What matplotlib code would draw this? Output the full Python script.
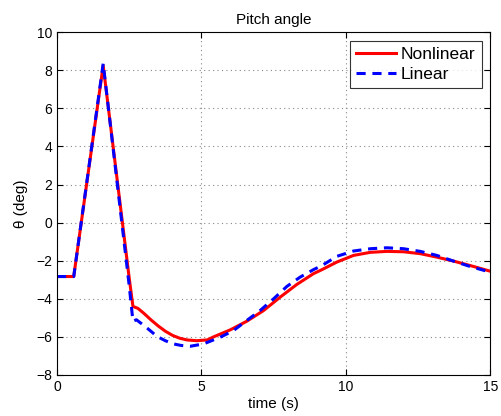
import numpy as np
import matplotlib
matplotlib.use('Agg')
import matplotlib.pyplot as plt

plt.rcParams['font.family'] = ['Liberation Sans', 'DejaVu Sans']

# Values
t_nl = [0.0, 0.58, 1.6, 2.5, 2.63, 2.8, 3.0, 3.25, 3.5, 3.75, 4.0, 4.25, 4.5,
        4.84, 5.2, 5.42, 6.0, 6.57, 7.15, 7.73, 8.3, 8.88, 9.2, 9.69, 10.27,
        10.85, 11.42, 12.0, 12.58, 13.15, 13.73, 14.3, 15.0]
theta_nl = [-2.83, -2.83, 8.25, -2.9, -4.4, -4.5, -4.75, -5.1, -5.42, -5.7,
            -5.92, -6.07, -6.16, -6.2, -6.16, -6.0, -5.63, -5.18, -4.62, -3.91,
            -3.25, -2.68, -2.45, -2.07, -1.72, -1.56, -1.51, -1.53, -1.63,
            -1.81, -2.02, -2.25, -2.55]

t_lin = [0.0, 0.58, 1.6, 2.5, 2.63, 2.75, 3.06, 3.47, 3.75, 4.04, 4.3, 4.62,
         5.07, 5.65, 6.11, 6.57, 7.03, 7.5, 7.96, 8.42, 8.88, 9.2, 9.69, 10.27,
         10.85, 11.42, 12.0, 12.58, 13.15, 13.73, 14.3, 15.0]
theta_lin = [-2.83, -2.83, 8.35, -3.3, -5.18, -5.1, -5.46, -5.98, -6.2, -6.37,
             -6.45, -6.49, -6.37, -6.02, -5.67, -5.14, -4.62, -4.0, -3.35,
             -2.86, -2.47, -2.23, -1.77, -1.49, -1.37, -1.32, -1.37, -1.51,
             -1.72, -2.02, -2.3, -2.6]

fig = plt.figure(figsize=(5.02, 4.16), dpi=100)
ax = fig.add_axes([0.1135, 0.0986, 0.863, 0.824])

ax.plot(t_nl, theta_nl, color='red', lw=2.2, label='Nonlinear')
ax.plot(t_lin, theta_lin, color='blue', lw=2.2, ls=(0, (3, 2.2)), label='Linear')

ax.set_xlim(0, 15)
ax.set_ylim(-8, 10)
ax.set_xticks([0, 5, 10, 15])
ax.set_yticks(np.arange(-8, 11, 2))
ax.tick_params(direction='in', top=True, right=True, labelsize=10, length=4)
ax.grid(True, ls=(0, (1, 3)), color='#888888', lw=0.8)

ax.set_title('Pitch angle', fontsize=11, pad=6)
ax.set_xlabel('time (s)', fontsize=11, labelpad=2)
ax.set_ylabel('θ (deg)', fontsize=11, labelpad=6)

leg = ax.legend(loc='upper right', fontsize=12.5, frameon=True, fancybox=False,
                handlelength=2.3, borderaxespad=0.5, borderpad=0.35,
                labelspacing=0.25, handletextpad=0.3)
leg.get_frame().set_edgecolor('black')
leg.get_frame().set_linewidth(0.8)

fig.savefig('out.png', dpi=100)
